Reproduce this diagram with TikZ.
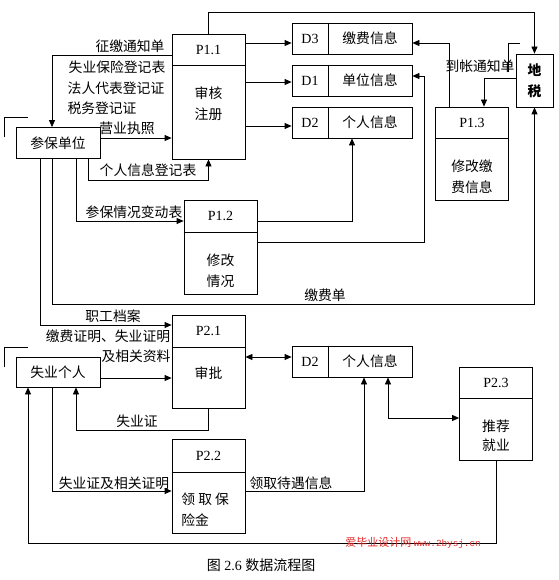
\documentclass[tikz,border=0pt]{standalone}
\usepackage{fontspec}
\setmainfont{Liberation Serif}
\setmonofont{Liberation Mono}
\newfontfamily\cjk{Noto Sans CJK SC}
\usetikzlibrary{arrows.meta}
\definecolor{wmred}{RGB}{226,40,40}

\begin{document}
\begin{tikzpicture}[x=1pt, y=-1pt, line width=0.8pt, >={Triangle[length=7pt,width=6pt]},
	every node/.style={font=\cjk\fontsize{13.8}{21}\selectfont, inner sep=0pt},
	proc/.style={draw, minimum width=73pt},
	store/.style={draw, minimum width=120pt, minimum height=31pt},
	ent/.style={draw, minimum width=84pt, minimum height=31pt},
	pid/.style={font=\rmfamily\fontsize{14}{16}\selectfont},
	ptext/.style={align=center}]
	\useasboundingbox (0,0) rectangle (558,580);
	% external entities
	\node[ent] (dw) at (58,143) {参保单位};
	\node[ent, minimum width=37pt, minimum height=53pt, align=center, font=\cjk\bfseries\fontsize{13.8}{21}\selectfont] (ds) at (534.5,80.5) {地\\税};
	\node[ent, minimum height=30pt] (gr) at (58,372) {失业个人};
	\draw (4,137) -- (4,117) -- (28,117);
	\draw (4,367) -- (4,347) -- (28,347);
	\draw (508,72) -- (508,43) -- (520,43);
	% processes
	\foreach \nm/\id/\xc/\yt/\yd/\yb in {p11/P1.1/208.5/34/65/159, p12/P1.2/220.5/200/232/294, p13/P1.3/472/107/138/200, p21/P2.1/208.5/315/347/408, p22/P2.2/208.5/439/472/533, p23/P2.3/496/367/398/460} {
		\node[proc, minimum height={(\yb-\yt)*1pt}] (\nm) at (\xc,{(\yt+\yb)/2}) {};
		\draw (\nm.west |- 0,\yd) -- (\nm.east |- 0,\yd);
		\node[pid] (\nm-id) at (\xc,{(\yt+\yd)/2}) {\id};
	}
	\node[ptext] (p11t) at (208.5,103.5) {审核\\注册};
	\node[ptext] (p12t) at (220.5,271) {修改\\情况};
	\node[ptext] (p13t) at (472,176.5) {修改缴\\费信息};
	\node[ptext] (p21t) at (208.5,373) {审批};
	\node[align=left, anchor=west] (p22t) at (181,510) {领\ 取\ 保\\险金};
	\node[ptext, font=\cjk\fontsize{13.8}{19}\selectfont] (p23t) at (496,436) {推荐\\就业};
	% data stores
	\foreach \nm/\id/\txt/\yc in {d3/D3/缴费信息/38.5, d1/D1/单位信息/80.5, d2a/D2/个人信息/122.5, d2b/D2/个人信息/361.5} {
		\node[store] (\nm) at (352,\yc) {};
		\draw (\nm.north -| 328,0) -- (\nm.south -| 328,0);
		\node[pid] (\nm-id) at (310,\yc) {\id};
		\node (\nm-t) at (370,\yc) {\txt};
	}
	% flows, part 1
	\draw[->] (p11.east |- 0,43) -- (d3.west |- 0,43);
	\draw[->] (p11.east |- 0,82) -- (d1.west |- 0,82);
	\draw[->] (p11.east |- 0,126) -- (d2a.west |- 0,126);
	\draw[->] (p11.north) -- ++(0,-21) -| (ds.north);
	\draw[->] (p13.north -| 449,0) |- (d3.east |- 0,43);
	\draw[->] (ds.west |- 0,78) -| (p13.north -| 484,0);
	\draw[->] (p12.east |- 0,221) -| (d2a.south);
	\draw[->] (p12.east |- 0,242) -| (424,76) -- (d1.east |- 0,76);
	\draw[->] (dw.south -| 52,0) -- ++(0,145) -| (ds.south);
	\draw[->] (dw.south -| 40,0) |- (p21.west |- 0,325);
	\draw[->] (dw.south -| 76,0) |- (p12.west |- 0,221);
	\draw[->] (dw.south -| 88,0) -- ++(0,21) -| (p11.south);
	\draw[->] (p11.west |- 0,55) -| (dw.north -| 52,0);
	\draw[->] (dw.east |- 0,138) -- (p11.west |- 0,138);
	% flows, part 2
	\draw[->] (gr.east |- 0,378) -- (p21.west |- 0,378);
	\draw[->] (p21.south) -- ++(0,22) -| (gr.south -| 76,0);
	\draw[<->] (p21.east |- 0,357) -- (d2b.west |- 0,357);
	\draw[->] (p22.east |- 0,491) -| (d2b.south -| 364,0);
	\draw[<->] (d2b.south -| 388,0) |- (p23.west |- 0,418);
	\draw[->] (p23.south) -- ++(0,83) -| (gr.south -| 28,0);
	\draw[->] (gr.south -| 52,0) |- (p22.west |- 0,491);
	% flow labels
	\node (lzj) at (130,46) {征缴通知单};
	\node (lsy) at (117,67) {失业保险登记表};
	\node (lfr) at (116,88) {法人代表登记证};
	\node (lsw) at (102,108) {税务登记证};
	\node (lyy) at (127,128) {营业执照};
	\node (lgr) at (148,170) {个人信息登记表};
	\node (lbd) at (134,212) {参保情况变动表};
	\node (ljf) at (325,295) {缴费单};
	\node (ldz) at (480,66) {到帐通知单};
	\node (lzg) at (113,316) {职工档案};
	\node (ljz) at (108,336) {缴费证明、失业证明};
	\node (lxg) at (136,356) {及相关资料};
	\node (lsz) at (137,421) {失业证};
	\node (lzm) at (114,483) {失业证及相关证明};
	\node (ldy) at (291,483) {领取待遇信息};
	% caption
	\node[font=\rmfamily\fontsize{14}{16}\selectfont] (cap) at (261,565) {{\cjk 图} 2.6 {\cjk 数据流程图}};
	\node[text=wmred, font=\cjk\fontsize{11}{13}\selectfont] (wm) at (413,543) {爱毕业设计网 {\ttfamily\fontsize{9.3}{11}\selectfont www.2bysj.cn}};
\end{tikzpicture}
\end{document}
